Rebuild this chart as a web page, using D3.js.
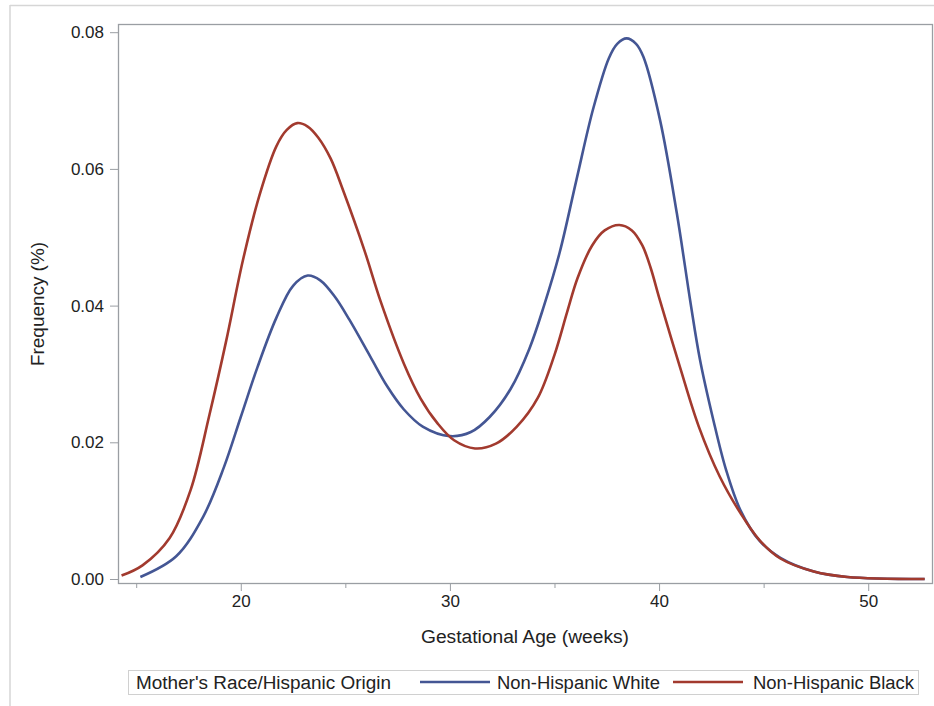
<!DOCTYPE html>
<html>
<head>
<meta charset="utf-8">
<script src="https://cdn.jsdelivr.net/npm/d3@7"></script>
<style>
  body { margin: 0; background: #fff; }
  svg { display: block; font-family: "Liberation Sans", Arial, sans-serif; }
  .axis path, .axis line { stroke: #9a9ea3; }
  .axis text { fill: #222; font-size: 17px; }
</style>
</head>
<body>
<div id="chart"></div>
<script>
// values: [week, frequency]
const whiteSeries = [
  [15.2, 0.0003], [16.9, 0.0033], [18.2, 0.0091], [19.2, 0.0164], [20.0, 0.0237],
  [20.8, 0.0310], [21.7, 0.0382], [22.5, 0.0429], [23.2, 0.0444], [23.8, 0.0437],
  [24.5, 0.0413], [25.2, 0.0379], [26.2, 0.0325], [27.0, 0.0282], [27.8, 0.0248],
  [28.7, 0.0223], [30.0, 0.0209], [31.0, 0.0215], [31.9, 0.0237], [32.9, 0.0278],
  [33.8, 0.0337], [34.5, 0.0400], [35.25, 0.0478], [36.05, 0.0584], [36.85, 0.0688],
  [37.6, 0.0762], [38.0, 0.0783], [38.45, 0.0791], [38.9, 0.0783], [39.25, 0.0764],
  [40.05, 0.0671], [40.85, 0.0535], [41.5, 0.0405], [41.95, 0.0322], [42.6, 0.0232],
  [43.2, 0.0160], [43.9, 0.0100], [44.8, 0.0056], [45.8, 0.0031], [47.4, 0.0011],
  [49.0, 0.0003], [52.7, 0.0000]
];

const blackSeries = [
  [14.3, 0.0005], [15.3, 0.0020], [16.6, 0.0060], [17.6, 0.0130], [18.5, 0.0240],
  [19.3, 0.0348], [20.1, 0.0466], [20.9, 0.0562], [21.7, 0.0633], [22.2, 0.0657],
  [22.7, 0.0667], [23.2, 0.0662], [23.7, 0.0646], [24.3, 0.0615], [24.9, 0.0568],
  [25.9, 0.0482], [26.7, 0.0405], [27.8, 0.0315], [28.6, 0.0264], [29.4, 0.0228],
  [30.2, 0.0203], [31.2, 0.0191], [32.2, 0.0198], [33.2, 0.0223], [34.2, 0.0265],
  [35.0, 0.0328], [35.6, 0.0390], [36.1, 0.0440], [36.8, 0.0488], [37.4, 0.0510],
  [38.1, 0.0518], [38.7, 0.0510], [39.2, 0.0488], [39.6, 0.0455], [40.0, 0.0412],
  [41.0, 0.0310], [41.9, 0.0223], [42.9, 0.0150], [43.9, 0.0096], [44.8, 0.0057],
  [45.8, 0.0030], [47.4, 0.0011], [49.0, 0.0003], [52.7, 0.0000]
];

const seriesNames = ['Non-Hispanic White', 'Non-Hispanic Black'];
const seriesColors = ['#445694', '#A23A2E'];
const xTicks = [20, 30, 40, 50];
const xMinorTicks = [15, 25, 35, 45];
const yTicks = [0, 0.02, 0.04, 0.06, 0.08];
const legendTitle = "Mother's Race/Hispanic Origin";

const width = 934, height = 706;
const plot = {left: 118, top: 24, right: 932, bottom: 583};

const svg = d3.select('#chart').append('svg')
  .attr('width', width)
  .attr('height', height);

// outer frame edges (top + left)
svg.append('line').attr('x1', 10).attr('y1', 5.5).attr('x2', width).attr('y2', 5.5)
  .attr('stroke', '#d6d6d6').attr('stroke-width', 1.5);
svg.append('line').attr('x1', 10).attr('y1', 5).attr('x2', 10).attr('y2', height)
  .attr('stroke', '#d6d6d6').attr('stroke-width', 1.5);

const x = d3.scaleLinear().domain([14.13, 53.05]).range([plot.left, plot.right]);
const y = d3.scaleLinear().domain([-0.000585, 0.0812]).range([plot.bottom, plot.top]);

// axes
svg.append('g').attr('class', 'x axis')
  .attr('transform', 'translate(0,' + plot.bottom + ')')
  .call(d3.axisBottom(x).tickValues(xTicks).tickSize(8).tickPadding(4).tickFormat(d3.format('d')))
  .call(g => g.select('.domain').remove());

svg.append('g').attr('class', 'x axis minor')
  .attr('transform', 'translate(0,' + plot.bottom + ')')
  .call(d3.axisBottom(x).tickValues(xMinorTicks).tickSize(5).tickFormat(''))
  .call(g => g.select('.domain').remove());

svg.append('g').attr('class', 'y axis')
  .attr('transform', 'translate(' + plot.left + ',0)')
  .call(d3.axisLeft(y).tickValues(yTicks).tickSize(8).tickPadding(6).tickFormat(d3.format('.2f')))
  .call(g => g.select('.domain').remove());

// plot frame
svg.append('rect')
  .attr('x', plot.left + 0.5).attr('y', plot.top + 0.5)
  .attr('width', plot.right - plot.left).attr('height', plot.bottom - plot.top)
  .attr('fill', 'none').attr('stroke', '#9a9ea3').attr('stroke-width', 1.3);

// curves
const line = d3.line()
  .x(d => x(d[0]))
  .y(d => y(d[1]))
  .curve(d3.curveCatmullRom.alpha(0.5));

[whiteSeries, blackSeries].forEach((s, i) => {
  svg.append('path')
    .datum(s)
    .attr('d', line)
    .attr('fill', 'none')
    .attr('stroke', seriesColors[i])
    .attr('stroke-width', 2.6);
});

// axis labels
const addText = (g, tx, ty, str, len, size) => g.append('text')
  .attr('x', tx).attr('y', ty)
  .attr('font-size', size).attr('fill', '#222')
  .attr('textLength', len).attr('lengthAdjust', 'spacingAndGlyphs')
  .text(str);

addText(svg, 421, 643, 'Gestational Age (weeks)', 208, 18);

const yLab = svg.append('g').attr('transform', 'translate(44,366) rotate(-90)');
addText(yLab, 0, 0, 'Frequency (%)', 124, 18);

// legend
const legend = svg.append('g').attr('class', 'legend');
legend.append('rect')
  .attr('x', 128.5).attr('y', 670.5).attr('width', 790).attr('height', 24)
  .attr('fill', '#fff').attr('stroke', '#d0d0d0');
addText(legend, 136, 689, legendTitle, 255, 18);

const legendItems = [
  {lineX: 420, textX: 497, len: 163},
  {lineX: 673, textX: 753, len: 161}
];
legendItems.forEach((it, i) => {
  legend.append('line')
    .attr('x1', it.lineX).attr('x2', it.lineX + 70)
    .attr('y1', 682).attr('y2', 682)
    .attr('stroke', seriesColors[i]).attr('stroke-width', 2.6);
  addText(legend, it.textX, 689, seriesNames[i], it.len, 18);
});
</script>
</body>
</html>
